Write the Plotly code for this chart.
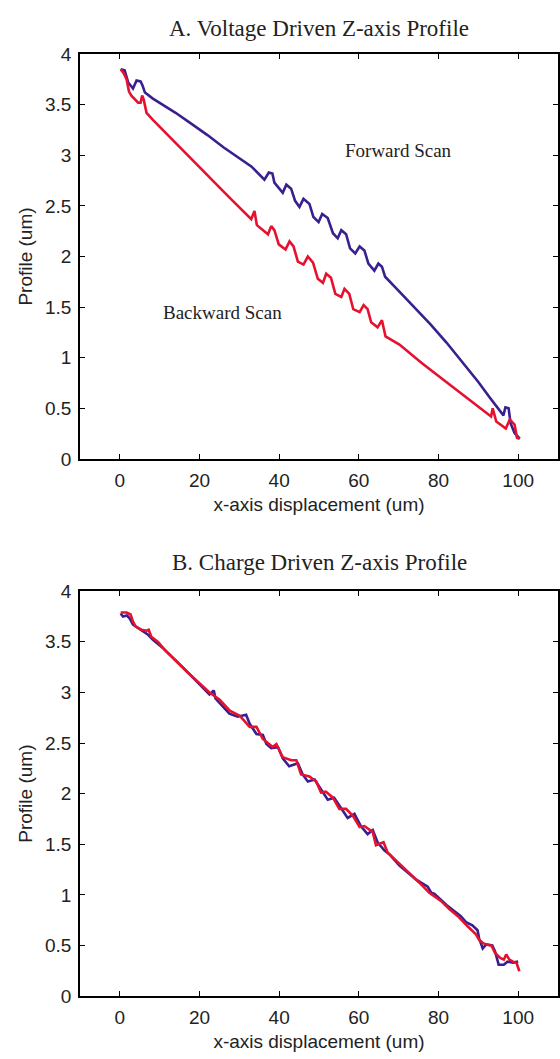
import plotly.graph_objects as go
from plotly.subplots import make_subplots

# ---- Panel A: Voltage driven ----
a_fwd_x = [0.2, 1.2, 2.1, 3.3, 4.2, 5.2, 5.7, 6.3, 8.3, 10.8, 14, 18, 22, 26, 30, 33, 36.3, 37.4, 38.3, 38.8,
           40.9, 41.8, 43.0, 44.0, 45.1, 46.1, 47.6, 48.6, 49.9, 50.8, 52.2, 53.5, 54.7, 55.6, 56.8, 57.8,
           59.1, 60.2, 61.4, 62.4, 63.9, 64.9, 65.8, 66.6, 70, 74, 78, 82, 86, 90, 93, 95.5, 96.3, 96.8,
           97.6, 98.1, 99.1, 100.4]
a_fwd_y = [3.85, 3.84, 3.72, 3.66, 3.74, 3.73, 3.69, 3.62, 3.56, 3.50, 3.42, 3.31, 3.20, 3.08, 2.97, 2.89,
           2.76, 2.83, 2.82, 2.73, 2.63, 2.71, 2.67, 2.55, 2.49, 2.57, 2.52, 2.39, 2.34, 2.42, 2.38, 2.23,
           2.18, 2.26, 2.22, 2.08, 2.03, 2.10, 2.06, 1.93, 1.86, 1.93, 1.90, 1.80, 1.66, 1.50, 1.33, 1.15,
           0.96, 0.76, 0.60, 0.47, 0.43, 0.51, 0.50, 0.35, 0.255, 0.2]

a_bwd_x = [0.2, 1.0, 1.7, 2.3, 2.9, 4.6, 5.2, 5.6, 6.0, 6.7, 8.3, 20, 27.6, 33.0, 33.8, 34.4, 37.2, 38.0,
           38.8, 39.9, 41.6, 42.6, 43.6, 44.7, 46.1, 47.2, 48.5, 49.7, 51.0, 51.8, 53.0, 54.1, 55.6, 56.4,
           57.6, 58.6, 60.2, 61.2, 62.2, 63.1, 64.7, 65.8, 66.7, 70.2, 75.7, 80, 85, 90, 93.2, 93.6, 94.5,
           96.9, 97.9, 99.1, 99.7, 100.4]
a_bwd_y = [3.85, 3.81, 3.75, 3.63, 3.59, 3.52, 3.52, 3.59, 3.55, 3.42, 3.35, 2.88, 2.58, 2.37, 2.45, 2.31,
           2.22, 2.30, 2.26, 2.12, 2.07, 2.15, 2.10, 1.95, 1.92, 2.00, 1.94, 1.78, 1.74, 1.83, 1.79, 1.63,
           1.60, 1.68, 1.63, 1.48, 1.45, 1.52, 1.48, 1.35, 1.30, 1.37, 1.21, 1.13, 0.95, 0.82, 0.67, 0.52,
           0.42, 0.50, 0.37, 0.30, 0.39, 0.34, 0.21, 0.2]

# ---- Panel B: Charge driven ----
b_fwd_x = [0.2, 0.8, 1.8, 2.5, 3.3, 5.8, 7.1, 8.3, 10.8, 16, 22.5, 23.6, 24, 27.5, 29.6, 31.7, 32.6, 34.3,
           35.9, 36.8, 38.0, 39.7, 40.9, 42.5, 44.7, 45.9, 47.2, 48.9, 50.5, 52.2, 53.8, 55.5, 57.2, 58.9,
           60.5, 62.2, 63.5, 64.7, 66.4, 67.7, 70.2, 74.4, 76.8, 77.3, 78.2, 79.0, 82, 85.6, 86.9, 88.5,
           89.8, 90.2, 91.1, 92.0, 93.5, 94.2, 95.1, 96.4, 97.3, 98.7, 100.0]
b_fwd_y = [3.78, 3.75, 3.76, 3.73, 3.67, 3.60, 3.57, 3.52, 3.44, 3.24, 2.98, 3.02, 2.94, 2.79, 2.76, 2.78,
           2.69, 2.59, 2.58, 2.49, 2.45, 2.46, 2.35, 2.27, 2.30, 2.19, 2.12, 2.14, 2.04, 1.94, 1.96, 1.86,
           1.76, 1.80, 1.68, 1.60, 1.64, 1.52, 1.44, 1.40, 1.29, 1.15, 1.09, 1.08, 1.02, 1.01, 0.90, 0.79,
           0.73, 0.70, 0.65, 0.57, 0.47, 0.51, 0.50, 0.44, 0.31, 0.31, 0.34, 0.33, 0.34]

b_bwd_x = [0.2, 1.7, 2.7, 3.3, 4.0, 5.4, 6.7, 7.25, 7.9, 9.6, 11.25, 17, 22.5, 25, 27.6, 30.1, 32.6, 34.3,
           35.9, 38.4, 39.3, 40.9, 43.0, 44.3, 45.5, 47.6, 49.3, 50.5, 51.7, 53.5, 55.1, 56.8, 58.5, 60.2,
           61.4, 63.5, 64.3, 66.2, 67.2, 70.2, 75.2, 77.7, 80.6, 82.7, 85.1, 87.3, 89.4, 90.2, 91.3, 93.3,
           94.2, 95.5, 96.4, 97.0, 97.8, 98.7, 99.6, 100.3]
b_bwd_y = [3.79, 3.79, 3.77, 3.70, 3.65, 3.62, 3.61, 3.62, 3.55, 3.50, 3.42, 3.20, 3.00, 2.93, 2.82, 2.77,
           2.66, 2.66, 2.54, 2.46, 2.49, 2.36, 2.33, 2.33, 2.19, 2.17, 2.12, 2.01, 2.02, 1.96, 1.85, 1.85,
           1.78, 1.67, 1.68, 1.62, 1.49, 1.52, 1.42, 1.31, 1.12, 1.02, 0.94, 0.86, 0.78, 0.69, 0.61, 0.556,
           0.52, 0.497, 0.425, 0.376, 0.36, 0.41, 0.36, 0.34, 0.327, 0.245]

x_ticks = [0, 20, 40, 60, 80, 100]
y_ticks = [0, 0.5, 1, 1.5, 2, 2.5, 3, 3.5, 4]
y_tick_text = ["0", "0.5", "1", "1.5", "2", "2.5", "3", "3.5", "4"]

BLUE = "#3a1f8e"
RED = "#e5112e"

fig = make_subplots(rows=2, cols=1)

line_w = 2.6
fig.add_trace(go.Scatter(x=a_fwd_x, y=a_fwd_y, mode="lines", line=dict(color=BLUE, width=line_w)), row=1, col=1)
fig.add_trace(go.Scatter(x=a_bwd_x, y=a_bwd_y, mode="lines", line=dict(color=RED, width=line_w)), row=1, col=1)
fig.add_trace(go.Scatter(x=b_fwd_x, y=b_fwd_y, mode="lines", line=dict(color=BLUE, width=line_w)), row=2, col=1)
fig.add_trace(go.Scatter(x=b_bwd_x, y=b_bwd_y, mode="lines", line=dict(color=RED, width=line_w)), row=2, col=1)

sans = "Liberation Sans, Arial, sans-serif"
serif = "Liberation Serif, Times New Roman, serif"
TXT = "#222222"

axis_common = dict(
    showgrid=False, zeroline=False, showline=True, linecolor="black", linewidth=1.6,
    mirror="ticks", ticks="inside", ticklen=5, tickwidth=1.2, tickcolor="black",
    tickfont=dict(family=sans, size=19, color=TXT),
)

H = 1059.0
dom_a = [1 - 458 / H, 1 - 45 / H]
dom_b = [1 - 1006 / H, 1 - 593 / H]

fig.update_xaxes(range=[-10, 110], tickvals=x_ticks, ticklabelstandoff=3, **axis_common)
fig.update_yaxes(range=[0, 4], tickvals=y_ticks, ticktext=y_tick_text, ticklabelstandoff=3, **axis_common)

xt = dict(text="x-axis displacement (um)", font=dict(family=sans, size=19, color=TXT), standoff=8)
yt = dict(text="Profile (um)", font=dict(family=sans, size=19, color=TXT), standoff=7)
fig.update_layout(
    xaxis=dict(domain=[0, 1], title=xt),
    yaxis=dict(domain=dom_a, title=yt),
    xaxis2=dict(domain=[0, 1], title=xt),
    yaxis2=dict(domain=dom_b, title=yt),
)

fig.add_annotation(text="A. Voltage Driven Z-axis Profile", xref="paper", yref="paper",
                   x=0.5, y=1 - 19 / H, showarrow=False, xanchor="center", yanchor="middle",
                   font=dict(family=serif, size=23, color=TXT))
fig.add_annotation(text="B. Charge Driven Z-axis Profile", xref="paper", yref="paper",
                   x=0.5, y=1 - 564 / H, showarrow=False, xanchor="center", yanchor="middle",
                   font=dict(family=serif, size=23, color=TXT))
fig.add_annotation(text="Forward Scan", xref="x", yref="y", x=70, y=3.05, showarrow=False,
                   font=dict(family=serif, size=19, color=TXT))
fig.add_annotation(text="Backward Scan", xref="x", yref="y", x=25.7, y=1.45, showarrow=False,
                   font=dict(family=serif, size=19, color=TXT))

fig.update_layout(
    width=560, height=1059,
    margin=dict(l=80, r=2, t=0, b=0),
    paper_bgcolor="white", plot_bgcolor="white",
    showlegend=False,
)

fig.write_html("out.html", config={"displayModeBar": False},
               post_script="document.body.style.margin='0px';")
